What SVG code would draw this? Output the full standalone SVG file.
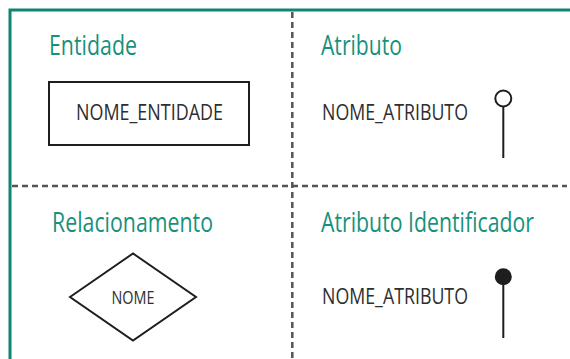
<svg xmlns="http://www.w3.org/2000/svg" width="570" height="359" viewBox="0 0 570 359">
<style>
.frame{stroke:#0e8670;stroke-width:3;fill:none}
.sep{stroke:#555;stroke-width:2.5;stroke-dasharray:6 4;fill:none}
.title{font-family:"Open Sans","Noto Sans","Liberation Sans",sans-serif;font-size:27px;fill:#17917c}
.label{font-family:"Open Sans","Noto Sans","Liberation Sans",sans-serif;font-size:21px;fill:#2e2e2e}
.small{font-family:"Open Sans","Noto Sans","Liberation Sans",sans-serif;font-size:18px;fill:#2e2e2e}
.shape{stroke:#1e1e1e;stroke-width:2;fill:none}
</style>
<rect width="570" height="359" fill="#fff"/>
<g id="frame">
<path class="frame" d="M10,359 V10 H570"/>
</g>
<g id="separators">
<line class="sep" x1="292.3" y1="12" x2="292.3" y2="359"/>
<line class="sep" x1="12" y1="186" x2="567" y2="186"/>
</g>
<g id="entidade">
<text class="title" x="49" y="55" textLength="88" lengthAdjust="spacingAndGlyphs">Entidade</text>
<rect class="shape" x="49" y="82" width="200" height="63"/>
<text class="label" x="76" y="120" textLength="147" lengthAdjust="spacingAndGlyphs">NOME_ENTIDADE</text>
</g>
<g id="atributo">
<text class="title" x="321" y="55" textLength="81" lengthAdjust="spacingAndGlyphs">Atributo</text>
<text class="label" x="322" y="120" textLength="146" lengthAdjust="spacingAndGlyphs">NOME_ATRIBUTO</text>
<circle class="shape" cx="503.3" cy="98.5" r="8" fill="#fff"/>
<line class="shape" x1="503.3" y1="106.5" x2="503.3" y2="158"/>
</g>
<g id="relacionamento">
<text class="title" x="52" y="232" textLength="161" lengthAdjust="spacingAndGlyphs">Relacionamento</text>
<polygon class="shape" points="70,297 133,253.5 196,297 133,340.5" stroke-width="1.8"/>
<text class="small" x="133" y="303.5" text-anchor="middle" textLength="43" lengthAdjust="spacingAndGlyphs">NOME</text>
</g>
<g id="atributo-identificador">
<text class="title" transform="translate(321,232) scale(0.79,1)" x="0" y="0" textLength="269.6" lengthAdjust="spacingAndGlyphs">Atributo Identificador</text>
<text class="label" x="322" y="304" textLength="146" lengthAdjust="spacingAndGlyphs">NOME_ATRIBUTO</text>
<circle cx="503.3" cy="276.7" r="8.5" fill="#1e1e1e"/>
<line class="shape" x1="503.3" y1="280" x2="503.3" y2="338"/>
</g>
</svg>
